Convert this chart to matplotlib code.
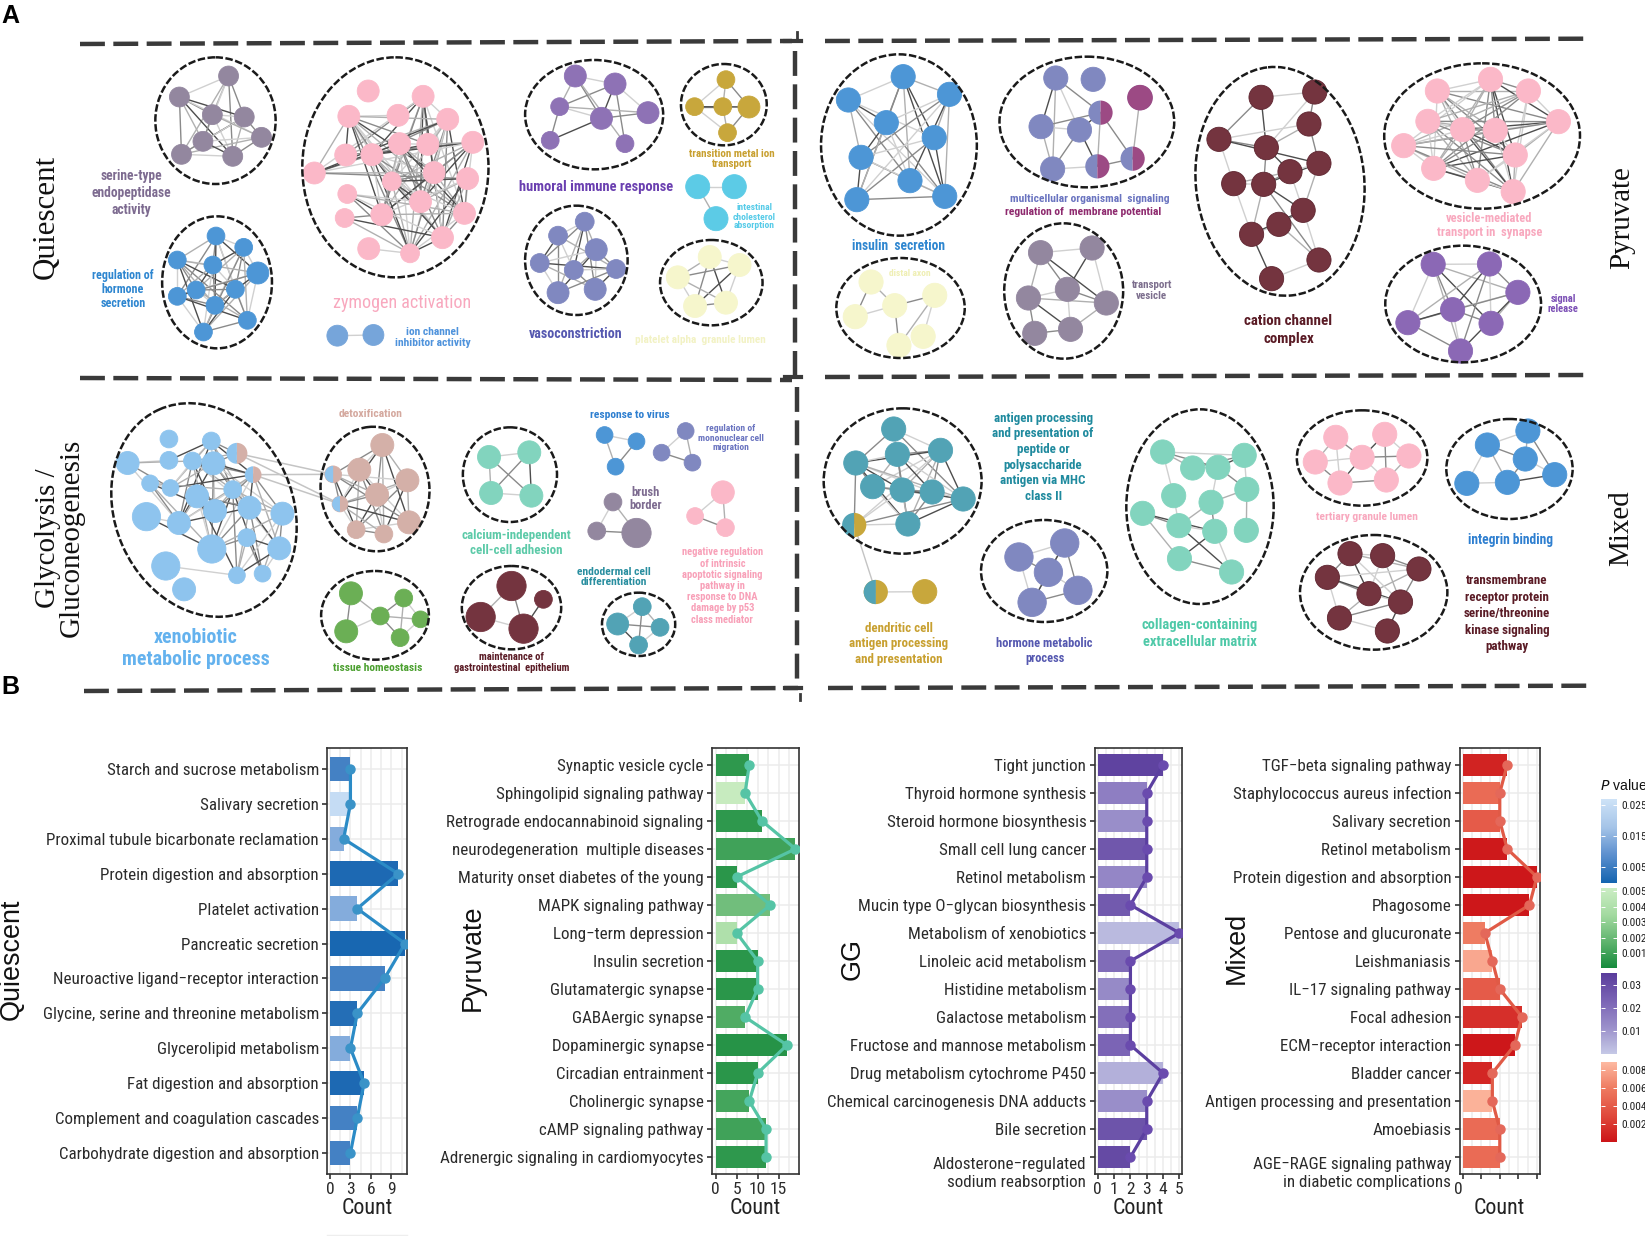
import itertools
import math
import matplotlib
matplotlib.use("Agg")
import matplotlib.pyplot as plt
from matplotlib.colors import LinearSegmentedColormap, Normalize
from matplotlib.cm import ScalarMappable
from matplotlib.patches import Circle, Ellipse, Wedge
from matplotlib.transforms import ScaledTranslation

W, H = 1645, 1236
NARROW = ['Roboto Condensed', 'Open Sans Condensed', 'Liberation Sans']
SERIF = ['Liberation Serif', 'DejaVu Serif']

# ---- panel B data
q_terms = ["Starch and sucrose metabolism", "Salivary secretion", "Proximal tubule bicarbonate reclamation",
           "Protein digestion and absorption", "Platelet activation", "Pancreatic secretion",
           "Neuroactive ligand\u2212receptor interaction", "Glycine, serine and threonine metabolism",
           "Glycerolipid metabolism", "Fat digestion and absorption", "Complement and coagulation cascades",
           "Carbohydrate digestion and absorption"]
q_count = [3, 3, 2, 10, 4, 11, 8, 4, 3, 5, 4, 3]
q_p = [.006, .025, .014, .001, .014, .0005, .006, .002, .014, .001, .006, .006]

p_terms = ["Synaptic vesicle cycle", "Sphingolipid signaling pathway", "Retrograde endocannabinoid signaling",
           "neurodegeneration  multiple diseases", "Maturity onset diabetes of the young", "MAPK signaling pathway",
           "Long\u2212term depression", "Insulin secretion", "Glutamatergic synapse", "GABAergic synapse",
           "Dopaminergic synapse", "Circadian entrainment", "Cholinergic synapse", "cAMP signaling pathway",
           "Adrenergic signaling in cardiomyocytes"]
p_count = [8, 7, 11, 19, 5, 13, 5, 10, 10, 7, 17, 10, 8, 12, 12]
p_p = [.0006, .005, .0006, .001, .0005, .0022, .004, .0005, .0005, .0014, .0004, .0005, .0011, .001, .0006]

g_terms = ["Tight junction", "Thyroid hormone synthesis", "Steroid hormone biosynthesis", "Small cell lung cancer",
           "Retinol metabolism", "Mucin type O\u2212glycan biosynthesis", "Metabolism of xenobiotics",
           "Linoleic acid metabolism", "Histidine metabolism", "Galactose metabolism",
           "Fructose and mannose metabolism", "Drug metabolism cytochrome P450",
           "Chemical carcinogenesis DNA adducts", "Bile secretion",
           "Aldosterone\u2212regulated\nsodium reabsorption"]
g_count = [4, 3, 3, 3, 3, 2, 5, 2, 2, 2, 2, 4, 3, 3, 2]
g_p = [.033, .016, .012, .027, .014, .026, .003, .021, .013, .02, .023, .005, .012, .028, .031]

m_terms = ["TGF\u2212beta signaling pathway", "Staphylococcus aureus infection", "Salivary secretion",
           "Retinol metabolism", "Protein digestion and absorption", "Phagosome", "Pentose and glucuronate",
           "Leishmaniasis", "IL\u221217 signaling pathway", "Focal adhesion", "ECM\u2212receptor interaction",
           "Bladder cancer", "Antigen processing and presentation", "Amoebiasis",
           "AGE\u2212RAGE signaling pathway\nin diabetic complications"]
m_count = [12, 10, 10, 12, 20, 18, 6, 8, 10, 16, 14, 8, 8, 10, 10]
m_p = [.0008, .005, .004, .0003, .0002, .0002, .006, .008, .004, .0015, .0002, .001, .0085, .005, .005]

serine = [(437, 228), (343, 291), (406, 344), (467, 351), (500, 412), (388, 424), (347, 463), (445, 469)]
hormone_reg = [(413, 708), (466, 742), (339, 780), (407, 795), (493, 819, 42), (375, 870), (450, 868), (339, 889),
               (411, 916), (473, 961), (389, 996)]
zymogen = [(704, 273), (809, 289), (667, 349), (761, 346), (856, 358), (904, 427), (661, 465), (711, 464), (764, 431),
           (818, 433), (830, 518), (894, 536), (601, 519), (749, 544, 36), (664, 582, 36), (804, 605), (888, 640),
           (659, 654, 36), (730, 644), (846, 713), (705, 746), (784, 760, 36)]
humoral = [(1100, 228, 42), (1176, 252, 42), (1070, 320, 34), (1150, 355, 42), (1239, 338, 42), (1052, 421, 34),
           (1195, 431, 34)]
transition = [(1388, 239, 34), (1328, 320, 34), (1382, 320, 34), (1432, 321, 42), (1391, 398, 34)]
intestinal = [(1334, 560, 46), (1404, 560, 46), (1369, 656, 46)]
vaso = [(1118, 665, 36), (1067, 707, 36), (1140, 749, 42), (1032, 789, 36), (1097, 810, 36), (1178, 807, 36),
        (1067, 878, 42), (1138, 868, 42)]
platelet = [(1357, 771, 44), (1414, 795, 44), (1296, 832, 44), (1329, 918, 44), (1388, 908, 44)]
ion = [(645, 1007, 40), (714, 1005, 40)]

insulin = [(158, 230), (54, 300), (246, 283), (126, 368), (217, 413), (78, 472), (171, 542), (70, 599), (237, 589)]
distal = [(97, 846), (218, 886), (142, 917), (67, 950), (196, 1009), (150, 1036)]
multicell = [(448, 234), (519, 238), (608, 293), (533, 338), (420, 380), (493, 390), (442, 507), (527, 499), (594, 476)]
vesicle_t = [(419, 758), (517, 744), (396, 894), (470, 868), (544, 909), (408, 1000), (476, 988)]
cation = [(838, 292), (940, 276), (929, 372), (758, 418), (848, 443), (948, 490), (786, 551), (843, 553), (893, 515),
          (918, 631), (872, 673), (820, 703), (948, 780), (858, 836)]
vesicle_m = [(1173, 273), (1274, 238), (1346, 273), (1403, 365), (1155, 364), (1221, 389), (1283, 391), (1321, 465),
             (1109, 437), (1166, 505), (1249, 541), (1317, 575)]
signal_rel = [(1165, 793), (1272, 792), (1326, 877), (1202, 929), (1275, 970), (1117, 968), (1217, 1053)]

xeno = [(323, 177, 34), (404, 183, 34), (244, 249, 44), (323, 241, 34), (368, 243, 34), (408, 250, 44), (453, 220, 40),
        (484, 284, 32), (287, 310, 32), (326, 324, 32), (445, 329, 34), (377, 349, 44), (411, 393, 44), (477, 383, 44),
        (280, 410, 54), (342, 429, 44), (540, 401, 44), (472, 473, 34), (405, 507, 54), (534, 505, 44), (317, 558, 54),
        (453, 586, 32), (502, 581, 32), (352, 628, 44)]
detox = [(731, 195, 44), (687, 269, 44), (779, 301, 44), (721, 344, 44), (782, 427, 44), (681, 449, 34), (734, 462, 34),
         (637, 283, 32), (650, 372, 30)]
calcium = [(935, 231, 44), (1012, 217, 44), (939, 339, 44), (1016, 347, 44)]
tissue = [(671, 640, 44), (772, 654, 34), (727, 708, 34), (662, 754, 44), (804, 718, 32), (765, 773, 34)]
mainten = [(978, 618, 56), (1039, 658, 34), (919, 711, 56), (1001, 746, 56)]
endoderm = [(1228, 680, 34), (1181, 732, 42), (1262, 742, 34), (1221, 795, 34)]
virus = [(1156, 165, 32), (1217, 184, 32), (1177, 260, 32)]
mononuc = [(1311, 153, 32), (1265, 218, 32), (1324, 248, 32)]
brush = [(1172, 366, 34), (1141, 453, 34), (1217, 459, 56)]
negreg = [(1382, 337, 44), (1329, 408, 32), (1387, 443, 34)]

antigen = [(140, 147), (229, 211), (147, 223), (68, 249), (100, 320), (156, 330), (213, 336), (272, 357), (65, 435),
           (167, 432)]
dendritic = [(106, 636), (199, 635)]
hormone_met = [(465, 489, 54), (378, 531, 54), (434, 577, 54), (490, 631, 54), (403, 667, 54)]
collagen = [(651, 216), (806, 226), (708, 264), (756, 262), (811, 328), (672, 347), (743, 367), (613, 400), (682, 437),
            (750, 454), (810, 451), (683, 536), (782, 576)]
tertiary = [(980, 172), (1073, 163), (941, 246), (1030, 232), (1119, 228), (988, 309), (1076, 300)]
integrin = [(1345, 153), (1268, 195), (1340, 237), (1396, 284), (1229, 310), (1306, 307)]
transmem = [(1007, 521), (1069, 527), (1138, 567), (964, 592), (1043, 641), (1103, 666), (987, 714), (1078, 753)]

# crop origin and scale: the crops were 1.9x wide and 3x tall
CROPS = {'tl': (0, 0, 1.912), 'tr': (820, 0, 1.9), 'bl': (0, 380, 1.912), 'br': (820, 380, 1.9)}

fig = plt.figure(figsize=(W / 100, H / 100), dpi=100, facecolor='white')
ax = fig.add_axes([0, 0, 1, 1])
ax.set_xlim(0, W)
ax.set_ylim(H, 0)
ax.axis('off')
ax.set_zorder(5)


def px(v):
    return v * 0.72


def conv(crop, x, y):
    x0, y0, sx = CROPS[crop]
    return x0 + x / sx, y0 + y / 3


GREYS = ['#4d4d4d', '#8a8a8a', '#b0b0b0', '#d0d0d0']


def network(crop, nodes, color, w=42, ell=None, edges=None, skip=0, splits=None, edge=None, maxd=None):
    x0, y0, sx = CROPS[crop]
    pts = [conv(crop, n[0], n[1]) for n in nodes]
    widths = [(n[2] if len(n) > 2 else w) / 2 / sx for n in nodes]
    if edges is None:
        edges = list(itertools.combinations(range(len(nodes)), 2))
        if skip:
            edges = [e for e in edges if (e[0] * 7 + e[1] * 3 + e[0] * e[1]) % skip != 0]
        if maxd:
            edges = [e for e in edges if math.dist(pts[e[0]], pts[e[1]]) < maxd]
    for i, j in edges:
        g = GREYS[(i * 7 + j * 3) % 4]
        ax.plot([pts[i][0], pts[j][0]], [pts[i][1], pts[j][1]], color=g, lw=1.0, zorder=2,
                solid_capstyle='round')
    for k, (p, r) in enumerate(zip(pts, widths)):
        if splits and k in splits:
            ax.add_patch(Wedge(p, r, 90, 270, fc=color, ec='none', zorder=3))
            ax.add_patch(Wedge(p, r, 270, 90, fc=splits[k], ec='none', zorder=3))
        else:
            ax.add_patch(Circle(p, r, fc=color, ec=edge or color, lw=0.6, zorder=3))
    if ell:
        cx, cy = conv(crop, ell[0], ell[1])
        ang = ell[4] if len(ell) > 4 else 0
        ax.add_patch(Ellipse((cx, cy), 2 * ell[2] / sx, 2 * ell[3] / 3, angle=ang, fc='none', ec='#1a1a1a',
                             lw=1.8, ls=(0, (3, 1)), zorder=4))


def label(crop, x, y, s, color, size, bold=True, ls=1.18):
    xx, yy = conv(crop, x, y)
    ax.text(xx, yy, s, color=color, fontsize=px(size), ha='center', va='center', family=NARROW,
            fontweight='bold' if bold else 'normal', linespacing=ls, zorder=6)


PINK, MAROON, SLATE, BLUE = '#FBB8C8', '#74343F', '#8088C0', '#4D96D6'
GREYP, PALE, TEAL, MINT = '#93879F', '#F6F6CC', '#52A3B5', '#82D4BE'

network('tl', serine, GREYP, w=38, ell=(412, 362, 115, 190), skip=4)
network('tl', hormone_reg, BLUE, w=34, ell=(415, 847, 105, 198), skip=5)
network('tl', zymogen, PINK, w=42, ell=(756, 502, 178, 330), skip=3, maxd=170)
network('tl', humoral, '#8E72B5', ell=(1136, 344, 132, 164),
        edges=[(0, 1), (0, 2), (0, 3), (1, 2), (1, 3), (1, 4), (2, 3), (2, 5), (3, 4), (3, 5), (0, 6), (1, 6), (2, 4)])
network('tl', transition, '#C8A73C', ell=(1384, 314, 82, 122),
        edges=[(0, 1), (0, 2), (0, 3), (1, 2), (2, 3), (2, 4), (1, 4), (3, 4), (1, 3)])
network('tl', intestinal, '#5CCBE6', edges=[(0, 1), (0, 2)])
network('tl', vaso, SLATE, ell=(1102, 781, 98, 164), skip=5)
network('tl', platelet, PALE, ell=(1360, 848, 98, 128), skip=0)
network('tl', ion, '#76A5DA', edges=[(0, 1)])

network('tr', insulin, BLUE, w=46, ell=(150, 435, 148, 272), skip=5)
network('tr', distal, PALE, w=46, ell=(153, 924, 122, 150),
        edges=[(0, 2), (2, 3), (2, 1), (3, 0), (2, 5), (1, 5), (1, 4)])
network('tr', multicell, SLATE, w=46, ell=(507, 366, 166, 196),
        edges=[(0, 4), (0, 5), (0, 3), (0, 6), (2, 8), (3, 5), (3, 4), (3, 7), (3, 8), (4, 5), (4, 6), (5, 6), (5, 7),
               (6, 7), (7, 8)], splits={3: '#9C4A84', 7: '#9C4A84', 8: '#9C4A84'})
# the one node that is all purple
xp, yp = conv('tr', 608, 293)
ax.add_patch(Circle((xp, yp), 46 / 2 / 1.9, fc='#9C4A84', ec='#9C4A84', zorder=3.5))
network('tr', vesicle_t, GREYP, w=46, ell=(463, 873, 113, 203),
        edges=[(0, 1), (0, 2), (0, 3), (0, 4), (1, 3), (1, 4), (2, 3), (2, 4), (2, 5), (2, 6), (3, 4), (3, 6), (5, 6), (4, 6)])
network('tr', cation, MAROON, w=46, ell=(874, 544, 160, 344, -6), edge='#5e2530',
        edges=[(0, 1), (0, 3), (0, 4), (1, 2), (1, 4), (2, 3), (2, 4), (2, 5), (3, 4), (3, 5), (3, 6), (4, 7), (4, 8),
               (5, 7), (5, 8), (5, 9), (6, 7), (6, 8), (7, 8), (7, 9), (6, 11), (7, 12), (8, 9), (9, 10), (9, 12),
               (10, 11), (11, 13), (12, 13), (7, 11), (9, 11), (10, 12)])
network('tr', vesicle_m, PINK, w=46, ell=(1258, 408, 186, 218), skip=4)
network('tr', signal_rel, '#8B68B5', w=46, ell=(1222, 912, 148, 175), skip=7)

network('bl', xeno, '#8EC4EE', ell=(390, 390, 170, 330, -24), skip=3, splits={6: '#D4B0A8', 7: '#D4B0A8'}, maxd=95)
network('bl', detox, '#D4B0A8', ell=(717, 327, 104, 187, -6), skip=5)
# the two blue halves on detox and links between the clusters
for nd in (detox[7], detox[8]):
    p = conv('bl', nd[0], nd[1])
    r = nd[2] / 2 / 1.912
    ax.add_patch(Wedge(p, r, 90, 270, fc='#8EC4EE', ec='none', zorder=3.5))
for a, b in [(xeno[6], detox[7]), (xeno[7], detox[7]), (xeno[6], detox[8]), (xeno[7], detox[8])]:
    pa, pb = conv('bl', a[0], a[1]), conv('bl', b[0], b[1])
    ax.plot([pa[0], pb[0]], [pa[1], pb[1]], color='#c4c4c4', lw=1.1, zorder=2)
network('bl', calcium, MINT, ell=(975, 284, 90, 142))
network('bl', tissue, '#6BAF55', ell=(717, 706, 103, 133),
        edges=[(0, 2), (3, 2), (3, 0), (2, 1), (2, 4), (2, 5), (1, 4), (1, 5), (4, 5)])
network('bl', mainten, MAROON, ell=(978, 683, 95, 125), edges=[(0, 2), (2, 3), (1, 3), (0, 3)])
network('bl', endoderm, TEAL, ell=(1221, 733, 70, 95))
network('bl', virus, BLUE)
network('bl', mononuc, SLATE)
network('bl', brush, GREYP)
network('bl', negreg, PINK)

network('br', antigen, TEAL, w=46, ell=(157, 303, 150, 218), skip=6, splits={8: '#C8A73C'})
network('br', dendritic, '#C8A73C', w=46, edges=[(0, 1)], splits={0: '#C8A73C'})
pd0 = conv('br', 106, 636)
ax.add_patch(Wedge(pd0, 46 / 2 / 1.9, 90, 270, fc=TEAL, ec='none', zorder=3.5))
pa, pb = conv('br', antigen[8][0], antigen[8][1]), pd0
ax.plot([pa[0], pb[0]], [pa[1], pb[1]], color='#c4c4c4', lw=1.0, zorder=2)
network('br', hormone_met, SLATE, ell=(426, 573, 120, 153),
        edges=[(0, 1), (0, 2), (0, 3), (1, 2), (1, 4), (2, 3), (2, 4), (3, 4), (0, 4)])
network('br', collagen, MINT, w=46, ell=(722, 380, 140, 292),
        edges=[(0, 1), (0, 2), (0, 3), (0, 5), (1, 3), (1, 4), (2, 3), (3, 6), (4, 6), (6, 8), (6, 9), (7, 8), (7, 9),
               (7, 11), (8, 9), (8, 12), (9, 12), (4, 10), (5, 8), (11, 12), (9, 11), (1, 2), (3, 4)])
network('br', tertiary, PINK, w=46, ell=(1030, 234, 124, 143),
        edges=[(0, 2), (0, 3), (0, 5), (1, 3), (1, 4), (1, 6), (2, 3), (2, 5), (3, 4), (3, 5), (3, 6), (4, 6), (5, 6)])
network('br', integrin, BLUE, w=46, ell=(1310, 267, 120, 150),
        edges=[(0, 1), (0, 2), (0, 3), (1, 2), (1, 4), (1, 5), (2, 5), (3, 5), (4, 5), (2, 3)])
network('br', transmem, MAROON, w=46, ell=(1052, 637, 140, 172), edge='#5e2530',
        edges=[(0, 1), (0, 3), (0, 4), (1, 2), (1, 4), (1, 5), (2, 3), (2, 4), (2, 5), (3, 4), (3, 5), (3, 6), (4, 5),
               (5, 6), (5, 7), (6, 7), (0, 2), (4, 6), (0, 5)])

# panel A labels
label('tl', 252, 579, "serine-type\nendopeptidase\nactivity", '#7D6B90', 13.5, ls=1.25)
label('tl', 235, 868, "regulation of\nhormone\nsecretion", '#2E86D0', 12, ls=1.12)
label('tl', 768, 910, "zymogen activation", '#F8A8BE', 18, bold=False)
label('tl', 827, 1012, "ion channel\ninhibitor activity", '#4F93DC', 11.5, ls=1.1)
label('tl', 1140, 560, "humoral immune response", '#6A3FB0', 14.5)
label('tl', 1400, 477, "transition metal ion\ntransport", '#C8A030', 11, ls=1.1)
label('tl', 1442, 651, "intestinal\ncholesterol\nabsorption", '#56CBE8', 9.5, ls=1.0)
label('tl', 1101, 1003, "vasoconstriction", '#5558B0', 14)
label('tl', 1340, 1020, "platelet alpha  granule lumen", '#F2F2C4', 11.2)

label('tr', 150, 738, "insulin  secretion", '#2E86D0', 13.5)
label('tr', 170, 820, "distal axon", '#EFEFB4', 9.5)
label('tr', 512, 597, "multicellular organismal  signaling", '#6A74C0', 11.5)
label('tr', 500, 635, "regulation of  membrane potential", '#8E2A6E', 11.5)
label('tr', 630, 871, "transport\nvesicle", '#7D6F8E', 11, ls=1.05)
label('tr', 890, 990, "cation channel\ncomplex", '#5A1B25', 15, ls=1.4)
label('tr', 1272, 677, "vesicle-mediated\ntransport in  synapse", '#F8A8BE', 12.5, ls=1.05)
label('tr', 1412, 913, "signal\nrelease", '#7B4FB5', 10.5, ls=1.0)

label('bl', 708, 102, "detoxification", '#D4A89E', 11.5)
label('bl', 1205, 104, "response to virus", '#2E7FD0', 11.5)
label('bl', 1397, 175, "regulation of\nmononuclear cell\nmigration", '#6A74C0', 9.5, ls=1.05)
label('bl', 1235, 357, "brush\nborder", '#7D6B90', 12.5, ls=1.05)
label('bl', 988, 489, "calcium-independent\ncell-cell adhesion", '#5CCAA8', 13, ls=1.12)
label('bl', 1381, 618, "negative regulation\nof intrinsic\napoptotic signaling\npathway in\nresponse to DNA\ndamage by p53\nclass mediator",
      '#F8A0B8', 10.5, ls=1.15)
label('bl', 1174, 591, "endodermal cell\ndifferentiation", '#2A8FA0', 11.5, ls=1.05)
label('bl', 374, 805, "xenobiotic\nmetabolic process", '#64B2EE', 20, ls=1.18)
label('bl', 723, 863, "tissue homeostasis", '#4CA030', 11.5)
label('bl', 978, 847, "maintenance of\ngastrointestinal  epithelium", '#5A1B25', 10.5, ls=1.05)

label('br', 424, 232, "antigen processing\nand presentation of\npeptide or\npolysaccharide\nantigen via MHC\nclass II",
      '#1F8A9E', 13, ls=1.27)
label('br', 150, 791, "dendritic cell\nantigen processing\nand presentation", '#C8A030', 13, ls=1.24)
label('br', 427, 814, "hormone metabolic\nprocess", '#5558B0', 12.5, ls=1.2)
label('br', 721, 761, "collagen-containing\nextracellular matrix", '#4FC9A8', 14.5, ls=1.3)
label('br', 1039, 412, "tertiary granule lumen", '#F8A8BE', 11.5)
label('br', 1311, 480, "integrin binding", '#2E7FD0', 13.5)
label('br', 1305, 701, "transmembrane\nreceptor protein\nserine/threonine\nkinase signaling\npathway", '#5A1B25', 13,
      ls=1.34)

# row titles and panel letters
ax.text(46, 217, "Quiescent", rotation=90, family=SERIF, fontsize=px(31), ha='center', va='center', color='#111111')
ax.text(60, 538, "Glycolysis /\nGluconeogenesis", rotation=90, family=SERIF, fontsize=px(29), ha='center', va='center',
        ma='center', linespacing=0.9, color='#111111')
ax.text(1622, 218, "Pyruvate", rotation=90, family=SERIF, fontsize=px(29), ha='center', va='center', color='#111111')
ax.text(1621, 528, "Mixed", rotation=90, family=SERIF, fontsize=px(29), ha='center', va='center', color='#111111')
ax.text(1, 16, "A", family='Liberation Sans', fontweight='bold', fontsize=px(25), va='center', color='black')
ax.text(1, 687, "B", family='Liberation Sans', fontweight='bold', fontsize=px(25), va='center', color='black')

# dashed frame
DASH = dict(color='#3a3a3a', lw=3.2, ls=(0, (5.6, 1.9)), solid_capstyle='butt', zorder=1)
for x1, y1, x2, y2 in [(80, 44, 792, 41), (825, 41, 1587, 38.7), (80, 378, 792, 380), (825, 377, 1587, 375),
                       (84, 691, 798, 688), (828, 688, 1589, 685.7), (795, 51, 795, 378), (797, 387, 797, 686)]:
    ax.plot([x1, x2], [y1, y2], **DASH)
ax.plot([785, 801], [41, 41], color='#3a3a3a', lw=3, zorder=1)
ax.plot([797, 797], [32, 41], color='#3a3a3a', lw=2, zorder=1)
ax.plot([785, 801], [377, 377], color='#3a3a3a', lw=3, zorder=1)
ax.plot([785, 801], [688, 688], color='#3a3a3a', lw=3, zorder=1)
ax.plot([800, 800], [694, 700], color='#3a3a3a', lw=2, zorder=1)
ax.plot([327, 407], [1235, 1235], color='#eeeeee', lw=1, zorder=1)

# ---- panel B
c_blue = LinearSegmentedColormap.from_list('b', ['#1565B0', '#5C8FCE', '#A5C4E8', '#CDE2F7'])
c_green = LinearSegmentedColormap.from_list('g', ['#158A3C', '#5FB46E', '#A3DAA0', '#CBEDC3'])
c_purple = LinearSegmentedColormap.from_list('p', ['#C5C8E6', '#9A8FCA', '#7A63B4', '#5A3D9C'])
c_red = LinearSegmentedColormap.from_list('r', ['#CC1418', '#E04A3C', '#EE7A60', '#FDBAA2'])


def bar_panel(left, right, terms, count, pvals, cmap, vmax, line, xlim, xticks, title, title_x, title_y, barh, marker_c):
    top, bottom = 748, 1174
    b = fig.add_axes([left / W, 1 - bottom / H, (right - left) / W, (bottom - top) / H])
    norm = Normalize(0, vmax)
    y = list(range(len(terms)))
    b.barh(y, count, height=barh, color=cmap(norm(pvals)), zorder=2)
    b.plot(count, y, color=line, lw=2.3, marker='o', ms=6.5, mfc=marker_c, mec=marker_c, zorder=3)
    b.set_ylim(len(terms) - 1 + 0.6, -0.6)
    b.set_xlim(*xlim)
    b.set_yticks(y)
    b.set_yticklabels(terms, family=NARROW, fontsize=px(17), color='#2b2b2b', linespacing=1.25)
    # two-line labels sit with the first line on the tick
    for t in b.get_yticklabels():
        if "\n" in t.get_text():
            t.set_verticalalignment('top')
            t.set_transform(t.get_transform() + ScaledTranslation(0, 9 / 100, fig.dpi_scale_trans))
    b.set_xticks(xticks)
    minor = [(xticks[i] + xticks[i + 1]) / 2 for i in range(len(xticks) - 1)]
    minor.append(xticks[-1] + (xticks[1] - xticks[0]) / 2)
    b.set_xticks([m for m in minor if m < xlim[1]], minor=True)
    b.tick_params(axis='x', which='minor', length=0)
    b.tick_params(axis='both', which='major', length=3.5, width=1.2, color='#333333', pad=2.5)
    b.tick_params(axis='x', labelsize=px(17.5), labelcolor='#2b2b2b')
    for t in b.get_xticklabels():
        t.set_family(NARROW)
    b.grid(True, which='both', color='#ececec', lw=1.1, zorder=0)
    b.set_axisbelow(True)
    for s in b.spines.values():
        s.set_color('#333333')
        s.set_linewidth(1.2)
    ax.text((left + right) / 2, 1209, "Count", family=NARROW, fontsize=px(22), ha='center', va='center', color='#222222')
    ax.text(title_x, title_y, title, rotation=90, family='Liberation Sans', fontsize=px(27), ha='center', va='center',
            color='#111111')
    return b


bar_panel(327.4, 407, q_terms, q_count, q_p, c_blue, .027, '#2B8BC6', (-0.38, 11.3), [0, 3, 6, 9], "Quiescent", 12, 959,
          0.7, '#3A93C8')
bar_panel(712, 798.6, p_terms, p_count, p_p, c_green, .0052, '#55C4A5', (-0.875, 19.75), [0, 5, 10, 15], "Pyruvate", 473,
          958, 0.78, '#55C4A5')
bar_panel(1094.7, 1182, g_terms, g_count, g_p, c_purple, .035, '#5B3FA0', (-0.19, 5.16), [0, 1, 2, 3, 4, 5], "GG", 853,
          959, 0.78, '#6A4BAE')
b4 = bar_panel(1459.5, 1539.5, m_terms, m_count, m_p, c_red, .0089, '#E05A46', (-0.85, 20.7), [0, 5, 10, 15, 20], "Mixed",
               1237, 948, 0.78, '#E4685A')
b4.set_xticklabels(['0', '', '', '', ''], family=NARROW, ha='right')


def legend_bar(y1, y2, cmap, vmin, vmax, ticks, fmt):
    cax = fig.add_axes([1600.5 / W, 1 - y2 / H, 16.3 / W, (y2 - y1) / H])
    cb = fig.colorbar(ScalarMappable(Normalize(vmin, vmax), cmap), cax=cax)
    cb.outline.set_visible(False)
    cb.set_ticks(ticks)
    cb.set_ticklabels([fmt % t for t in ticks])
    cax.tick_params(axis='y', direction='in', color='white', length=3, width=0.7, left=True, right=True, pad=3,
                    labelsize=px(11.5), labelcolor='#222222')
    for t in cax.get_yticklabels():
        t.set_family(NARROW)


legend_bar(799.3, 882.7, c_blue, 0, .027, [.025, .015, .005], '%.3f')
legend_bar(888.3, 968.3, c_green, 0, .0052, [.005, .004, .003, .002, .001], '%.3f')
legend_bar(973.3, 1053.7, c_purple, 0, .035, [.03, .02, .01], '%.2f')
legend_bar(1061.7, 1142, c_red, 0, .0089, [.008, .006, .004, .002], '%.3f')
ax.text(1600, 786, r"$\mathit{P}$ value", family='Liberation Sans', fontsize=px(14), ha='left', va='center',
        color='#111111')

fig.savefig("out.png", dpi=100)
